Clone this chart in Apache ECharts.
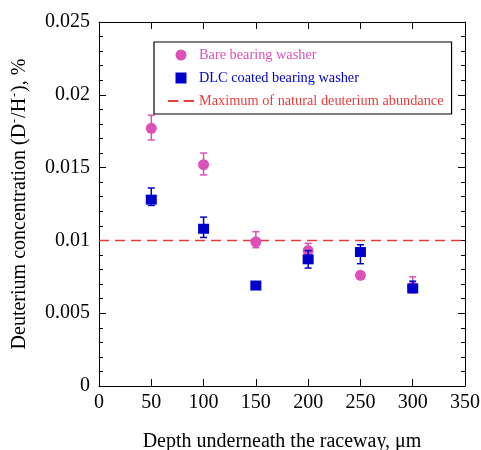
<!DOCTYPE html>
<html><head><meta charset="utf-8">
<script src="https://cdn.jsdelivr.net/npm/echarts@6/dist/echarts.min.js"></script>
<style>html,body{margin:0;padding:0;background:#fff}#c{width:481px;height:450px}</style>
</head><body><div id="c"></div>
<script>
const depth = [50, 100, 150, 200, 250, 300];
const bare = [0.0177, 0.0152, 0.0099, 0.0093, 0.0076, 0.0068];
const bareLo = [0.0169, 0.0145, 0.0095, 0.0089, 0.0075, 0.0064];
const bareHi = [0.0186, 0.0160, 0.0106, 0.0098, 0.0077, 0.0075];
const dlc = [0.0128, 0.0108, 0.0069, 0.0087, 0.0092, 0.0067];
const dlcLo = [0.0124, 0.0102, 0.0068, 0.0081, 0.0084, 0.0065];
const dlcHi = [0.0136, 0.0116, 0.0070, 0.0093, 0.0097, 0.0072];
const naturalMax = 0.01;
const lineX = [0, 350];
const names = ['Bare bearing washer', 'DLC coated bearing washer', 'Maximum of natural deuterium abundance'];

const PINK = '#dc50b8', BLUE = '#0000cc', RED = '#e83c3c';
const FONT = '"Liberation Serif", "Times New Roman", serif';

function errSeries(lo, hi, color, z) {
  return {
    type: 'custom', z: z, silent: true,
    data: depth.map((x, i) => [x, lo[i], hi[i]]),
    renderItem(params, api) {
      const x = api.value(0);
      const a = api.coord([x, api.value(1)]);
      const b = api.coord([x, api.value(2)]);
      const w = 3.5;
      const st = { stroke: color, lineWidth: 1.5 };
      return { type: 'group', children: [
        { type: 'line', shape: { x1: a[0], y1: a[1], x2: b[0], y2: b[1] }, style: st },
        { type: 'line', shape: { x1: a[0] - w, y1: a[1], x2: a[0] + w, y2: a[1] }, style: st },
        { type: 'line', shape: { x1: b[0] - w, y1: b[1], x2: b[0] + w, y2: b[1] }, style: st }
      ]};
    }
  };
}

const axisCommon = {
  axisLine: { show: true, onZero: false, lineStyle: { color: '#000', width: 1 } },
  splitLine: { show: false }
};

const chart = echarts.init(document.getElementById('c'));
chart.setOption({
  animation: false,
  grid: { left: 99, right: 16, top: 22, bottom: 64, containLabel: false, outerBoundsMode: 'none' },
  legend: {
    orient: 'vertical', left: 154, top: 42, width: 297,
    padding: [6, 8, 6, 14], itemGap: 9, itemWidth: 26, itemHeight: 11,
    borderColor: '#000', borderWidth: 1.2,
    textStyle: { fontFamily: FONT, fontSize: 14.3 },
    data: [
      { name: names[0], icon: 'circle', textStyle: { color: PINK } },
      { name: names[1], icon: 'path://M0,0H10V10H0Z', textStyle: { color: BLUE }, itemStyle: { color: BLUE } },
      { name: names[2], icon: 'path://M0,0H10V2H0Z M15,0H25V2H15Z', textStyle: { color: RED }, itemStyle: { color: RED } }
    ]
  },
  xAxis: [
    Object.assign({
      type: 'value', min: 0, max: 350, interval: 50, position: 'bottom',
      axisTick: { inside: true, length: 7, lineStyle: { color: '#000' } },
      axisLabel: { color: '#000', fontFamily: FONT, fontSize: 20, margin: 7 },
      name: 'Depth underneath the raceway, \u03bcm', nameLocation: 'middle', nameGap: 46,
      nameTextStyle: { color: '#000', fontFamily: FONT, fontSize: 20 }
    }, axisCommon),
    Object.assign({
      type: 'value', min: 0, max: 350, interval: 50, position: 'top',
      axisTick: { inside: true, length: 7, lineStyle: { color: '#000' } },
      axisLabel: { show: false }
    }, axisCommon)
  ],
  yAxis: [
    Object.assign({
      type: 'value', min: 0, max: 0.025, interval: 0.005, position: 'left',
      axisTick: { inside: true, length: 7, lineStyle: { color: '#000' } },
      minorTick: { show: true, splitNumber: 5, length: 4, lineStyle: { color: '#000' } },
      axisLabel: { color: '#000', fontFamily: FONT, fontSize: 20, margin: 9 },
      name: '{a|Deuterium concentration (D}{s|-}{a|/H}{s|-}{a|), %}',
      nameLocation: 'middle', nameGap: 68,
      nameTextStyle: {
        color: '#000', fontFamily: FONT, fontSize: 20,
        rich: {
          a: { fontFamily: FONT, fontSize: 20, color: '#000' },
          s: { fontFamily: FONT, fontSize: 12, color: '#000', padding: [0, 1, 10, 1] }
        }
      }
    }, axisCommon),
    Object.assign({
      type: 'value', min: 0, max: 0.025, interval: 0.005, position: 'right',
      axisTick: { inside: true, length: 7, lineStyle: { color: '#000' } },
      minorTick: { show: true, splitNumber: 5, length: 4, lineStyle: { color: '#000' } },
      axisLabel: { show: false }
    }, axisCommon)
  ],
  series: [
    {
      name: names[2], type: 'line', z: 1, symbol: 'none', color: RED,
      data: lineX.map(x => [x, naturalMax]),
      lineStyle: { color: RED, width: 1.5, type: [10, 6] }
    },
    errSeries(bareLo, bareHi, PINK, 2),
    {
      name: names[0], type: 'scatter', z: 3, symbol: 'circle', symbolSize: 11,
      itemStyle: { color: PINK, opacity: 1 },
      data: depth.map((x, i) => [x, bare[i]])
    },
    errSeries(dlcLo, dlcHi, BLUE, 4),
    {
      name: names[1], type: 'scatter', z: 5, symbol: 'rect', symbolSize: [11, 10],
      itemStyle: { color: BLUE, opacity: 1 },
      data: depth.map((x, i) => [x, dlc[i]])
    }
  ]
});
</script></body></html>
